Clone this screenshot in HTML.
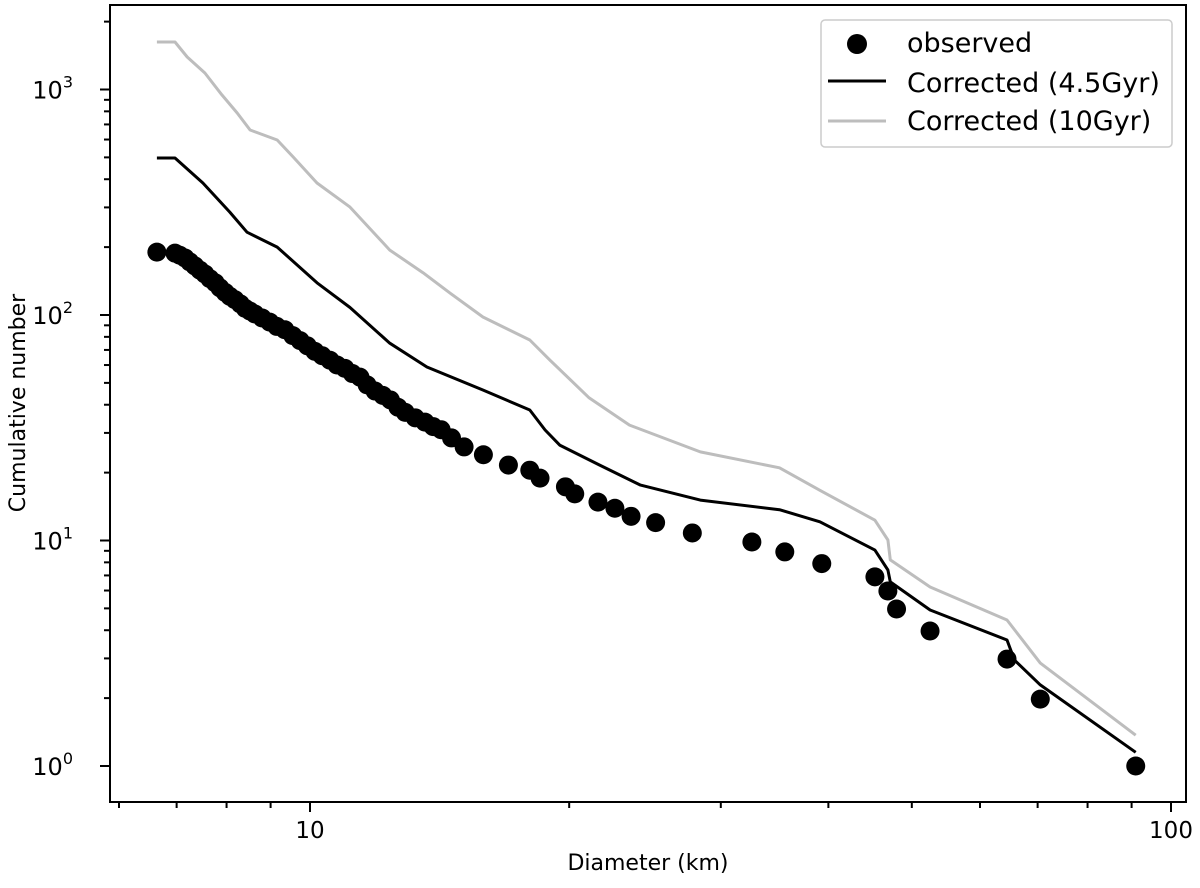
<!DOCTYPE html>
<html><head><meta charset="utf-8"><style>
body{margin:0;background:#fff}
svg{display:block;font-family:"DejaVu Sans","Liberation Sans",sans-serif}
</style></head><body>
<svg id="chart" width="1200" height="888" viewBox="0 0 1200 888"></svg>
<script>
const obsD=[6.64,6.97,7.06,7.16,7.25,7.35,7.45,7.55,7.65,7.76,7.86,7.97,8.07,8.18,8.3,8.41,8.52,8.63,8.8,8.98,9.15,9.35,9.55,9.74,9.93,10.13,10.33,10.55,10.75,10.98,11.2,11.43,11.65,11.9,12.15,12.4,12.65,12.9,13.25,13.6,13.9,14.2,14.6,15.1,15.9,17.0,18.0,18.5,19.8,20.3,21.6,22.6,23.6,25.2,27.8,32.6,35.6,39.3,45.3,46.9,48.0,52.5,64.5,70.5,91.0];
const obsN=[190,188,184,179,172,165,158,152,145,139,132,126,121,117,112,107,104,101,97,93,89,86,81,77,73,69,66,63,60,58,55,53,49,46,44,42,39,37,35,33.5,32,31,28.5,26,24,21.6,20.5,18.9,17.3,16.1,14.8,13.9,12.8,12,10.8,9.85,8.9,7.9,6.9,5.97,4.97,3.97,2.98,1.98,1];
const corrD=[6.64,6.97,7.51,8.07,8.45,9.16,10.19,11.13,12.38,13.67,15.88,18.0,18.75,19.5,21.7,24.2,28.4,35.1,39.1,45.3,46.9,47.2,52.5,64.5,65.8,70.5,91.0];
const corrN=[497,497,385,286,233,200,139,108,75,58.8,46.5,37.9,30.9,26.5,21.6,17.6,15.1,13.7,12.1,9.07,7.4,6.55,4.92,3.62,2.95,2.29,1.15];
const c10D=[6.64,6.97,7.20,7.55,7.90,8.23,8.52,9.16,9.56,10.19,11.13,12.38,13.53,14.54,15.88,18.0,19.0,21.1,23.5,28.4,35.1,39.1,45.3,46.9,47.2,52.5,64.5,70.5,91.0];
const c10N=[1625,1625,1394,1184,946,787,661,597,502,385,301,194,154,125,98,77.5,63,42.9,32.5,24.7,21,16.7,12.3,10.05,8.2,6.22,4.44,2.86,1.37];
const xTicks=[10,100];
const xTickLabels=["10","100"];
const yTicks=[1,10,100,1000];
const yTickLabels=["0","1","2","3"];

const NS="http://www.w3.org/2000/svg";
const svg=document.getElementById('chart');
const L=110,R=1186,T=5,B=802;
const X=d=>310+(Math.log10(d)-1)*861;
const Y=n=>766-Math.log10(n)*225.5;
function mk(tag,attrs,parent){const e=document.createElementNS(NS,tag);for(const k in attrs)e.setAttribute(k,attrs[k]);(parent||svg).appendChild(e);return e;}

const gx=mk('g',{});


for(let dec=1;dec<=100;dec*=10){for(let m=1;m<10;m++){const v=dec*m;const px=X(v);if(px<L||px>R)continue;const major=m===1;mk('line',{x1:px,x2:px,y1:B,y2:B+(major?10:6),stroke:'#000','stroke-width':2},gx);}}
xTicks.forEach((v,i)=>{const t=mk('text',{x:X(v),y:838,'font-size':23,'text-anchor':'middle'},gx);t.textContent=xTickLabels[i];});
const gy=mk('g',{});


for(let dec=1;dec<=1000;dec*=10){for(let m=1;m<10;m++){const v=dec*m;const py=Y(v);if(py<T||py>B)continue;const major=m===1;mk('line',{x1:L,x2:L-(major?10:6),y1:py,y2:py,stroke:'#000','stroke-width':2},gy);}}
yTicks.forEach((v,i)=>{const t=mk('text',{x:73,y:Y(v)+9,'font-size':24,'text-anchor':'end'},gy);t.textContent='10';const s=mk('tspan',{dy:-11,'font-size':16},t);s.textContent=yTickLabels[i];});

const fr=mk('rect',{x:L,y:T,width:R-L,height:B-T,fill:'none',stroke:'#000','stroke-width':2});



function line(ds,ns,color,name){const p=ds.map((d,i)=>X(d).toFixed(1)+','+Y(ns[i]).toFixed(1)).join(' ');const e=mk('polyline',{points:p,fill:'none',stroke:color,'stroke-width':3,'stroke-linejoin':'round'});}
line(c10D,c10N,'#bdbdbd','corrected-10gyr-line');
line(corrD,corrN,'#000','corrected-4-5gyr-line');
const go=mk('g',{});


obsD.forEach((d,i)=>{const c=mk('circle',{cx:X(d),cy:Y(obsN[i]),r:9.5,fill:'#000'},go);});

const xl=mk('text',{x:648,y:870,'font-size':22,'text-anchor':'middle'});xl.textContent='Diameter (km)';


const yl=mk('text',{x:0,y:0,'font-size':22,'text-anchor':'middle',transform:'translate(25,403) rotate(-90)'});yl.textContent='Cumulative number';



const lg=mk('g',{});


mk('rect',{x:821,y:20,width:351,height:127,rx:4,fill:'#fff',stroke:'#ccc','stroke-width':1.5},lg);
mk('circle',{cx:857,cy:44,r:10,fill:'#000'},lg);
mk('line',{x1:828,x2:886,y1:81,y2:81,stroke:'#000','stroke-width':3},lg);
mk('line',{x1:828,x2:886,y1:121,y2:121,stroke:'#bdbdbd','stroke-width':3},lg);
[['observed',52],['Corrected (4.5Gyr)',92],['Corrected (10Gyr)',130]].forEach(([s,y])=>{const t=mk('text',{x:907,y:y,'font-size':27,textLength:s==='observed'?null:null},lg);t.removeAttribute('textLength');t.textContent=s;});
</script>
</body></html>
